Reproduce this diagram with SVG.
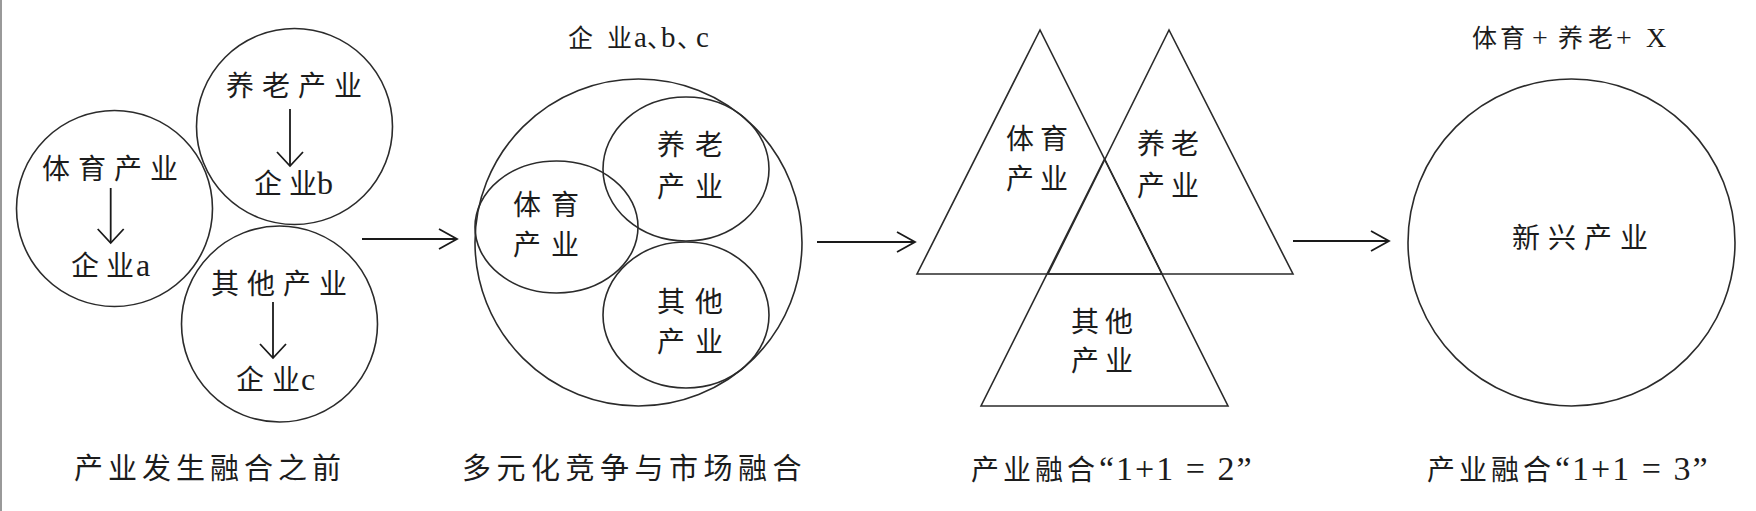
<svg xmlns="http://www.w3.org/2000/svg" width="1756" height="511" viewBox="0 0 1756 511">
<defs>
<style>
.ln{fill:none;stroke:#2b2b2b;stroke-width:1.6}
.ar{fill:none;stroke:#1a1a1a;stroke-width:1.8}
.tx{font-family:"Liberation Serif","Noto Sans CJK SC",serif;fill:#1c1c1c;font-size:28px}
.n{letter-spacing:8px}
.n2{letter-spacing:10px}
.n3{letter-spacing:6px}
.tp{font-size:25px}
.lt{font-size:32px}
.hw{font-feature-settings:"halt"}
.bt{font-size:29px;letter-spacing:5px}
</style>
<marker id="arrH" markerUnits="userSpaceOnUse" markerWidth="22" markerHeight="24" refX="19" refY="11" orient="auto" overflow="visible">
<path d="M1,1 L19,11 L1,21" fill="none" stroke="#1a1a1a" stroke-width="1.8"/>
</marker>
<marker id="arrV" markerUnits="userSpaceOnUse" markerWidth="18" markerHeight="30" refX="15" refY="14" orient="auto" overflow="visible">
<path d="M1,1 L15,14 L1,27" fill="none" stroke="#1a1a1a" stroke-width="1.8"/>
</marker>
</defs>
<rect width="1756" height="511" fill="#ffffff"/>
<line x1="1" y1="0" x2="1" y2="511" stroke="#777" stroke-width="1.5"/>

<!-- Panel 1 -->
<g id="p1-sport">
<circle class="ln" cx="114.5" cy="208.5" r="98"/>
<text class="tx n" x="42" y="179">体育产业</text>
<text class="tx" x="71" y="276">企<tspan x="106">业</tspan><tspan class="lt" x="136">a</tspan></text>
</g>
<g id="p1-elder">
<circle class="ln" cx="294.5" cy="126.5" r="98"/>
<text class="tx n" x="226" y="96">养老产业</text>
<text class="tx" x="254" y="194">企<tspan x="289">业</tspan><tspan class="lt" x="317">b</tspan></text>
</g>
<g id="p1-other">
<circle class="ln" cx="279.5" cy="324" r="98"/>
<text class="tx n" x="211" y="294">其他产业</text>
<text class="tx" x="236" y="390">企<tspan x="272">业</tspan><tspan class="lt" x="301">c</tspan></text>
</g>
<text class="tx bt" x="74" y="479">产业发生融合之前</text>

<!-- Panel 2 -->
<g id="p2-market">
<text class="tx tp" x="568" y="47">企<tspan x="607">业</tspan><tspan x="634" font-size="29">a</tspan><tspan class="hw" x="647">、</tspan><tspan x="661" font-size="29">b</tspan><tspan class="hw" x="677">、</tspan><tspan x="696" font-size="29">c</tspan></text>
<circle class="ln" cx="638.5" cy="242.5" r="163.5"/>
</g>
<g id="p2-sport">
<ellipse class="ln" cx="556.5" cy="227" rx="81.5" ry="66"/>
<text class="tx n2" x="513" y="215">体育</text>
<text class="tx n2" x="513" y="255">产业</text>
</g>
<g id="p2-elder">
<ellipse class="ln" cx="686" cy="169" rx="83" ry="72"/>
<text class="tx n2" x="657" y="155">养老</text>
<text class="tx n2" x="657" y="197">产业</text>
</g>
<g id="p2-other">
<ellipse class="ln" cx="686" cy="315" rx="83" ry="73"/>
<text class="tx n2" x="657" y="312">其他</text>
<text class="tx n2" x="657" y="352">产业</text>
</g>
<text class="tx bt" x="462" y="479" style="letter-spacing:5.5px">多元化竞争与市场融合</text>

<!-- Panel 3 -->
<g id="p3-sport">
<polygon class="ln" points="1040,30 917,274 1162,274"/>
<text class="tx n3" x="1006" y="149">体育</text>
<text class="tx n3" x="1006" y="189">产业</text>
</g>
<g id="p3-elder">
<polygon class="ln" points="1169,30 1048,274 1293,274"/>
<text class="tx n3" x="1137" y="154">养老</text>
<text class="tx n3" x="1137" y="196">产业</text>
</g>
<g id="p3-other">
<polygon class="ln" points="1104.5,159 981,406 1228,406"/>
<text class="tx n3" x="1071" y="332">其他</text>
<text class="tx n3" x="1071" y="371">产业</text>
</g>
<text class="tx" x="971" y="480"><tspan style="letter-spacing:4px">产业融合</tspan><tspan font-size="34" style="letter-spacing:2px">“1+1 = 2”</tspan></text>

<!-- Panel 4 -->
<g id="p4-new">
<text class="tx tp" x="1472" y="47">体<tspan x="1500">育</tspan><tspan x="1532" font-size="28">+</tspan><tspan x="1558">养</tspan><tspan x="1588">老</tspan><tspan x="1616" font-size="28">+</tspan><tspan x="1646" font-size="28">X</tspan></text>
<circle class="ln" cx="1571.5" cy="242.5" r="163.5"/>
<text class="tx n" x="1512" y="248">新兴产业</text>
</g>
<text class="tx" x="1427" y="480"><tspan style="letter-spacing:4px">产业融合</tspan><tspan font-size="34" style="letter-spacing:2px">“1+1 = 3”</tspan></text>

<!-- Connectors -->
<g id="connectors" class="ar">
<line x1="110.7" y1="188" x2="110.7" y2="243" marker-end="url(#arrV)"/>
<line x1="290" y1="109" x2="290" y2="166" marker-end="url(#arrV)"/>
<line x1="273" y1="302" x2="273" y2="358" marker-end="url(#arrV)"/>
<line x1="362" y1="239" x2="457" y2="239" marker-end="url(#arrH)"/>
<line x1="817" y1="242" x2="915" y2="242" marker-end="url(#arrH)"/>
<line x1="1293" y1="241" x2="1389" y2="241" marker-end="url(#arrH)"/>
</g>
</svg>
